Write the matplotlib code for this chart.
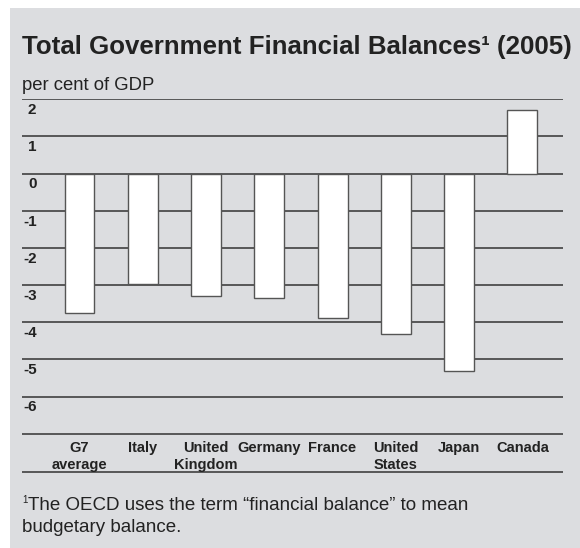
import matplotlib.pyplot as plt
from matplotlib.patches import Rectangle
from matplotlib.transforms import blended_transform_factory

countries = ["G7\naverage", "Italy", "United\nKingdom", "Germany", "France",
             "United\nStates", "Japan", "Canada"]
balances = [-3.74, -2.97, -3.29, -3.36, -3.88, -4.33, -5.32, 1.72]
grid_vals = [2, 1, 0, -1, -2, -3, -4, -5, -6, -7, -8.04]
tick_vals = [2, 1, 0, -1, -2, -3, -4, -5, -6]

W, H = 580, 548
plt.rcParams['font.family'] = ['Liberation Sans', 'DejaVu Sans']
INK = "#222222"

fig = plt.figure(figsize=(W / 100, H / 100), dpi=100)
fig.patch.set_facecolor("white")
# grey panel
fig.patches.append(Rectangle((10 / W, 0), 1, 1 - 7.5 / H, transform=fig.transFigure,
                             facecolor="#dcdde0", edgecolor="none", zorder=-1))

def fx(x):
    return x / W

def fy(y):
    return 1 - y / H

ax = fig.add_axes([fx(22), fy(472.7), fx(563) - fx(22), fy(99.3) - fy(472.7)])
ax.set_zorder(1)
ax.set_facecolor("none")
ax.set_xlim(-0.909, 7.643)
ax.set_ylim(-8.05, 2.0)
for v in grid_vals:
    ax.axhline(v, color="#333333", lw=1.1, zorder=1)
x = list(range(len(countries)))
ax.bar(x, balances, width=0.474, color="white", edgecolor="#555555", lw=1.0, zorder=2)
ax.axis("off")

# y labels sit just under their gridline, right aligned
ytrans = blended_transform_factory(fig.transFigure, ax.transData)
for v in tick_vals:
    fig.text(fx(36.5), v - 0.29, str(v), ha="right", va="center", fontsize=11,
             fontweight="bold", color=INK, transform=ytrans)

# category labels, line by line
xtrans = blended_transform_factory(ax.transData, fig.transFigure)
for i, c in enumerate(countries):
    for j, line in enumerate(c.split("\n")):
        ax.text(i, fy(451.7 + 17.6 * j), line, ha="center", va="baseline",
                fontsize=10.5, fontweight="bold", color=INK, transform=xtrans)

fig.text(fx(22), fy(54.3), "Total Government Financial Balances\u00b9 (2005)",
         fontsize=18.6, fontweight="bold", color=INK, ha="left", va="baseline")
fig.text(fx(22), fy(90), "per cent of GDP", fontsize=13.3, color=INK,
         ha="left", va="baseline")
fig.text(fx(22), fy(503), "1", fontsize=7, color=INK, ha="left", va="baseline")
fig.text(fx(28), fy(510), "The OECD uses the term \u201cfinancial balance\u201d to mean",
         fontsize=13.5, color=INK, ha="left", va="baseline")
fig.text(fx(22), fy(531.5), "budgetary balance.", fontsize=13.5, color=INK,
         ha="left", va="baseline")

fig.savefig("out.png", dpi=100)
